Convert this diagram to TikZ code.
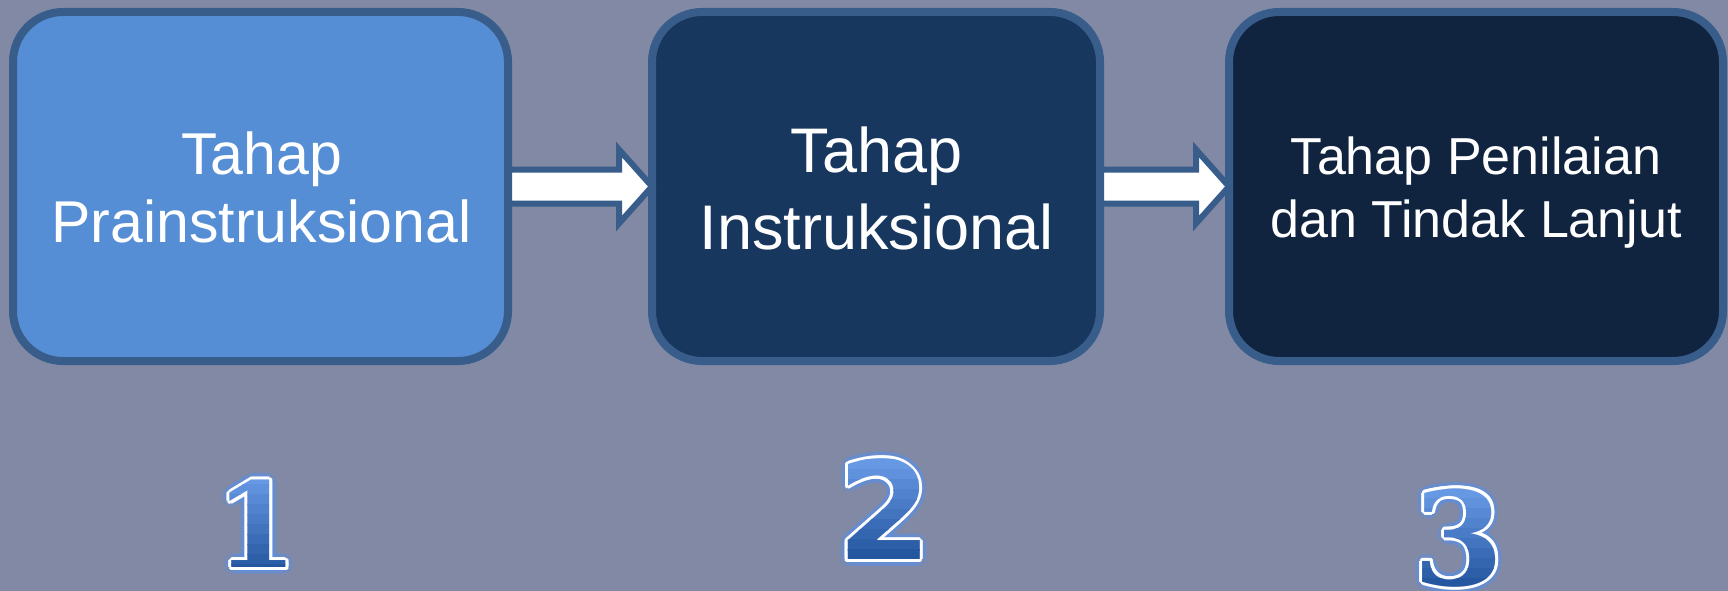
\documentclass[tikz,border=0pt]{standalone}
\usepackage{fontspec}
\newfontfamily\arialf{Liberation Sans}
\newfontfamily\dvsans{DejaVu Sans}
\newfontfamily\dvserif{DejaVu Serif}
\usetikzlibrary{calc}
\definecolor{bgc}{HTML}{8189A4}
\definecolor{bord}{HTML}{385D8A}
\definecolor{fa}{HTML}{558ED5}
\definecolor{fb}{HTML}{17375E}
\definecolor{fc}{HTML}{10243F}
\definecolor{gtop}{HTML}{6FA0EC}
\definecolor{gbot}{HTML}{1E4F99}
\definecolor{glowc}{HTML}{5A90E6}
\tikzset{
  stage/.style={draw=bord, line width=8pt, rounded corners=50pt, minimum width=#1, minimum height=349pt, inner sep=0pt},
  lbl/.style={text=white, align=center, inner sep=0pt},
  barrow/.style={draw=bord, fill=white, line width=6pt, line join=miter},
  numtxt/.style={inner sep=0pt, anchor=center},
}
\newcommand\fancynum[5]{%
  \foreach \a [count=\k] in {0,30,...,330}{
    \node[numtxt,text=glowc,opacity=0.28,name=#1g\k,xshift={7*cos(\a)},yshift={7*sin(\a)}] at (#2,#3) {#4#5};
  }
  \foreach \a [count=\k] in {0,30,...,330}{
    \node[numtxt,text=white,name=#1w\k,xshift={3*cos(\a)},yshift={3*sin(\a)}] at (#2,#3) {#4#5};
  }
  \foreach \b in {0,...,11}{
    \pgfmathtruncatemacro\pc{100-\b*100/11}
    \begin{scope}
      \clip (#2-90,#3-60+\b*10) rectangle (#2+90,#3-49.5+\b*10);
      \node[numtxt,text=gtop!\pc!gbot,name=#1f\b] at (#2,#3) {#4#5};
    \end{scope}
  }
}
\begin{document}
\begin{tikzpicture}[x=1pt,y=-1pt]
\useasboundingbox (0,0) rectangle (1728,591);
\fill[bgc] (0,0) rectangle (1728,591);

\node[stage=495pt, fill=fa] (b1) at (260.5,186.5) {};
\node[stage=448pt, fill=fb] (b2) at (876,186.5) {};
\node[stage=494pt, fill=fc] (b3) at (1476,186.5) {};

\node[lbl, font=\arialf\fontsize{59}{68}\selectfont] (t1) at (261.5,187.5) {Tahap\\Prainstruksional};
\node[lbl, font=\arialf\fontsize{63}{77}\selectfont] (t2) at (876.5,188.5) {Tahap\\Instruksional};
\node[lbl, font=\arialf\fontsize{52}{63}\selectfont] (t3) at (1476,193) {Tahap Penilaian\\dan Tindak Lanjut};

\draw[barrow] let \p1=(b1.east), \p2=(b2.west) in
  (\x1-3pt,\y1+17pt) -- (\x2-29pt,\y1+17pt) -- (\x2-29pt,\y1+37pt) -- (\x2+4pt,\y1)
  -- (\x2-29pt,\y1-37pt) -- (\x2-29pt,\y1-17pt) -- (\x1-3pt,\y1-17pt) -- cycle;
\draw[barrow] let \p1=(b2.east), \p2=(b3.west) in
  (\x1-3pt,\y1+17pt) -- (\x2-29pt,\y1+17pt) -- (\x2-29pt,\y1+37pt) -- (\x2+4pt,\y1)
  -- (\x2-29pt,\y1-37pt) -- (\x2-29pt,\y1-17pt) -- (\x1-3pt,\y1-17pt) -- cycle;

\fancynum{na}{257}{524}{\dvserif\bfseries\fontsize{118}{118}\selectfont}{1}
\fancynum{nb}{884.5}{509.5}{\dvsans\bfseries\fontsize{136}{136}\selectfont}{2}
\fancynum{nc}{1459}{538}{\dvserif\bfseries\fontsize{130}{130}\selectfont}{3}
\end{tikzpicture}
\end{document}
